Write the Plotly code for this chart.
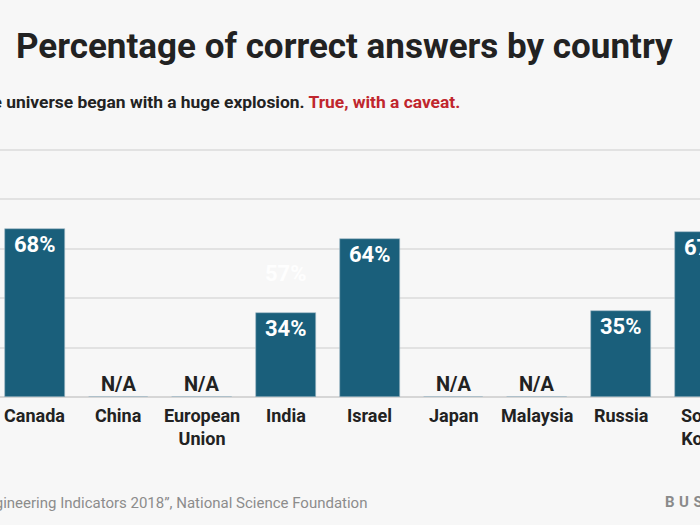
import plotly.graph_objects as go

categories = ["Canada", "China", "European<br>Union", "India", "Israel", "Japan", "Malaysia", "Russia", "South<br>Korea"]
values = [68, None, None, 34, 64, None, None, 35, 67]
value_labels = ["68%", "N/A", "N/A", "34%", "64%", "N/A", "N/A", "35%", "67%"]
ghost_label = ("India", 50, "57%")
y_ticks = [0, 20, 40, 60, 80, 100]

title_text = "Percentage of correct answers by country"
subtitle_text = "The universe began with a huge explosion."
subtitle_answer = "True, with a caveat."
source_text = "Source: \u201cScience and Engineering Indicators 2018\u201d, National Science Foundation"
brand_text = "BUSINESS INSIDER"

FONT = "Roboto, Noto Sans, sans-serif"
BAR = "#1a5f7b"
BG = "#f7f7f7"
W, H = 700, 525
M_T, M_B = 140, 128
PLOT_H = H - M_T - M_B
BASE = H - M_B
PX_PER_UNIT = 2.47
PX_PER_CAT = 83.75
C0 = 34.75


def px_x(px):
    return px / W


def px_y(py):
    return (BASE - py) / PLOT_H


def cat_paper(i):
    # same mapping as the x axis range below (l=r=0 margins)
    return (C0 + i * PX_PER_CAT) / W


def val_paper(v):
    return v * PX_PER_UNIT / PLOT_H


xs = list(range(len(categories)))
fig = go.Figure()
fig.add_trace(go.Bar(
    x=xs, y=[v if v is not None else 0 for v in values],
    width=0.716,
    marker=dict(color=BAR, line=dict(color="#9fb9c6", width=0.6)),
    hoverinfo="skip",
))

annotations = []
for i, (v, lab) in enumerate(zip(values, value_labels)):
    if v is None:
        annotations.append(dict(x=cat_paper(i), y=0, xref="paper", yref="paper", text="<b>%s</b>" % lab,
                                showarrow=False, xanchor="center", yanchor="bottom", yshift=-1,
                                font=dict(family=FONT, size=20, color="#222222")))
    else:
        annotations.append(dict(x=cat_paper(i), y=val_paper(v), xref="paper", yref="paper",
                                text="<b>%s</b>" % lab,
                                showarrow=False, xanchor="center", yanchor="top", yshift=-1,
                                font=dict(family=FONT, size=22, color="#ffffff")))

for i, c in enumerate(categories):
    annotations.append(dict(x=cat_paper(i), y=px_y(403), xref="paper", yref="paper",
                            text="<b>%s</b>" % c, showarrow=False,
                            xanchor="center", yanchor="top", align="center",
                            font=dict(family=FONT, size=18, color="#222222")))

gi = categories.index(ghost_label[0])
annotations.append(dict(x=cat_paper(gi), y=val_paper(ghost_label[1]), xref="paper", yref="paper",
                        text="<b>%s</b>" % ghost_label[2], showarrow=False,
                        xanchor="center", yanchor="middle",
                        font=dict(family=FONT, size=22, color="rgba(255,255,255,0.9)")))

# title
annotations.append(dict(x=px_x(344), y=px_y(47), xref="paper", yref="paper",
                        text="<b>%s</b>" % title_text, showarrow=False,
                        xanchor="center", yanchor="middle",
                        font=dict(family=FONT, size=35, color="#222222")))
# subtitle (cropped at left edge)
annotations.append(dict(x=px_x(462), y=px_y(102), xref="paper", yref="paper",
                        text="<b>%s <span style='color:#c0262d'>%s</span></b>" % (subtitle_text, subtitle_answer),
                        showarrow=False, xanchor="right", yanchor="middle",
                        font=dict(family=FONT, size=17.4, color="#222222")))
# source
annotations.append(dict(x=px_x(369), y=px_y(503), xref="paper", yref="paper",
                        text=source_text, showarrow=False, xanchor="right", yanchor="middle",
                        font=dict(family=FONT, size=15, color="#8c8c8c")))
# brand (letter-spaced)
annotations.append(dict(x=px_x(663), y=px_y(502), xref="paper", yref="paper",
                        text="<b><span style='letter-spacing:4.5px'>%s</span></b>" % brand_text,
                        showarrow=False, xanchor="left", yanchor="middle",
                        font=dict(family=FONT, size=15, color="#8a8a8a")))

fig.update_layout(
    width=W, height=H,
    paper_bgcolor=BG, plot_bgcolor=BG,
    margin=dict(l=0, r=0, t=M_T, b=M_B, pad=0),
    showlegend=False,
    bargap=0,
    annotations=annotations,
    xaxis=dict(
        range=[-C0 / PX_PER_CAT, (W - C0) / PX_PER_CAT],
        showticklabels=False,
        showgrid=False, zeroline=False, showline=False, ticks="", fixedrange=True,
    ),
    yaxis=dict(
        range=[0, PLOT_H / PX_PER_UNIT], tickvals=y_ticks, showticklabels=False,
        showgrid=True, gridcolor="#e2e2e2", gridwidth=1.5,
        zeroline=True, zerolinecolor="#d6d6d6", zerolinewidth=2,
        showline=False, ticks="", fixedrange=True,
    ),
)

fig.write_html("out.html", config={"displayModeBar": False})

with open("out.html", "r", encoding="utf-8") as f:
    html = f.read()
html = html.replace("<body>", "<body style=\"margin:0;padding:0;background:%s;overflow:hidden\">" % BG, 1)
with open("out.html", "w", encoding="utf-8") as f:
    f.write(html)
